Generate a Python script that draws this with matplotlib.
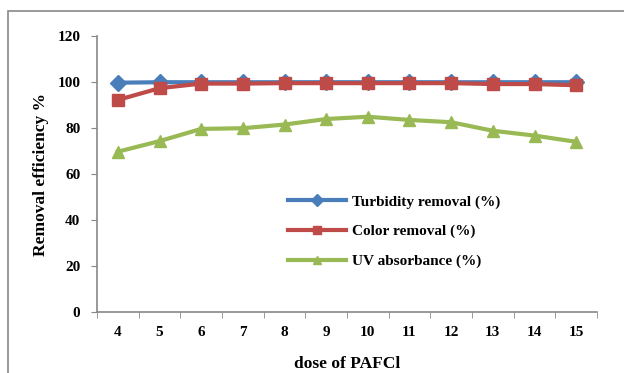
import matplotlib
matplotlib.use("Agg")
import matplotlib.pyplot as plt
from matplotlib.patches import Rectangle

doses = [4, 5, 6, 7, 8, 9, 10, 11, 12, 13, 14, 15]
turbidity = [99.7, 99.9, 99.9, 99.9, 99.9, 99.9, 99.9, 99.9, 99.9, 99.9, 99.9, 99.9]
color_rem = [92.2, 97.3, 99.3, 99.3, 99.5, 99.5, 99.5, 99.5, 99.5, 99.1, 99.1, 98.6]
uv_abs = [69.7, 74.3, 79.6, 79.9, 81.5, 83.9, 84.9, 83.5, 82.5, 78.8, 76.7, 74.0]
yticks = [0, 20, 40, 60, 80, 100, 120]

plt.rcParams['font.family'] = ['Liberation Serif', 'DejaVu Serif']
plt.rcParams['font.weight'] = 'bold'

fig = plt.figure(figsize=(6.24, 3.73), dpi=100)
fig.patches.append(Rectangle((8/624, -0.1), 1.0, 1 - 11/373 + 0.1, transform=fig.transFigure,
                             fill=False, edgecolor='#888888', linewidth=1.2))
ax = fig.add_axes([97/624, 1 - 312/373, 500/624, 276/373])

x = list(range(len(doses)))
ax.plot(x, turbidity, color='#4a7ebb', lw=3.0, marker='D', ms=8, label='Turbidity removal (%)', zorder=3)
ax.plot(x, color_rem, color='#be4b48', lw=3.0, marker='s', ms=8, label='Color removal (%)', zorder=4)
ax.plot(x, uv_abs, color='#98b954', lw=3.0, marker='^', ms=8, label='UV absorbance (%)', zorder=3)

ax.set_xlim(-0.5, len(doses) - 0.5)
ax.set_ylim(0, 120)
ax.set_yticks(yticks)
ax.set_yticklabels([str(v) for v in yticks], fontsize=11, fontweight='bold')
ax.set_xticks(x)
ax.set_xticklabels([str(d) for d in doses], fontsize=11, fontweight='bold')
ax.set_xticks([i - 0.5 for i in range(len(doses) + 1)], minor=True)
ax.tick_params(axis='x', which='major', length=0, pad=10)
ax.tick_params(axis='x', which='minor', length=4, color='#888888', direction='out')
ax.tick_params(axis='y', length=4, color='#888888', direction='out', pad=8)
for s in ['top', 'right']:
    ax.spines[s].set_visible(False)
for s in ['left', 'bottom']:
    ax.spines[s].set_color('#888888')
    ax.spines[s].set_linewidth(1.2)

ax.set_xlabel('dose of PAFCl', fontsize=12.5, fontweight='bold', labelpad=12)
ax.set_ylabel('Removal efficiency %', fontsize=12.5, fontweight='bold', labelpad=6)

leg = ax.legend(loc='upper left', bbox_to_anchor=(0.355, 0.475), frameon=False,
                handlelength=3.8, labelspacing=1.05, handletextpad=0.4, markerscale=0.8,
                prop={'weight': 'bold', 'size': 11})

fig.savefig('out.png', dpi=100)
